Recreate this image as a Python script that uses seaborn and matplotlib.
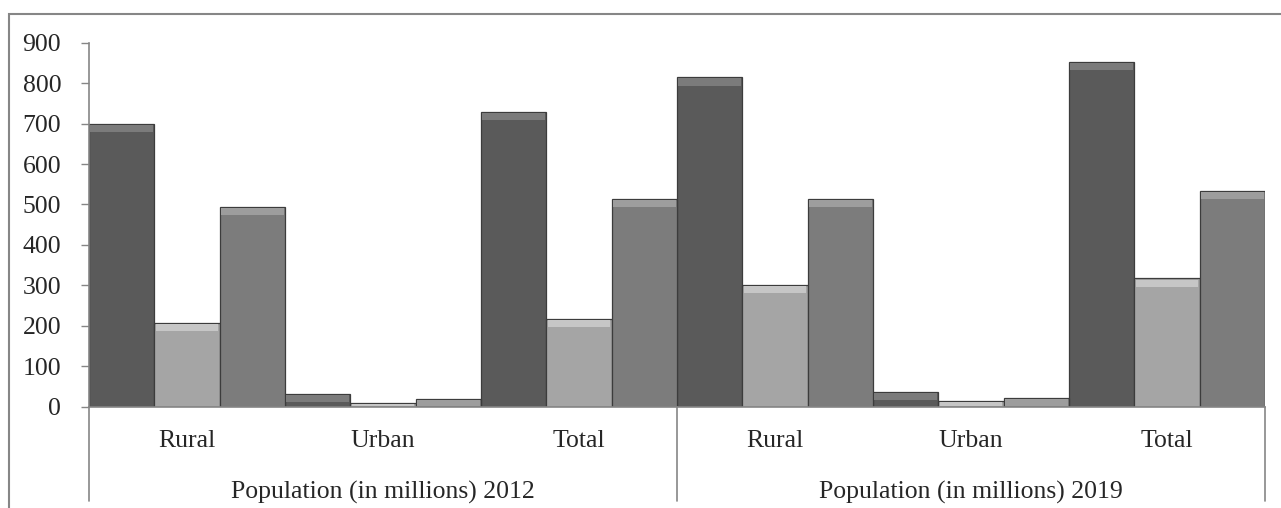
import pandas as pd
import matplotlib.pyplot as plt
import seaborn as sns
from matplotlib.patches import Rectangle
from matplotlib.lines import Line2D

# values (millions)
years = ["Population (in millions) 2012", "Population (in millions) 2019"]
areas = ["Rural", "Urban", "Total"]
series_names = ["Series 1", "Series 2", "Series 3"]
series_1 = [700, 32, 729, 814, 37, 853]
series_2 = [208, 10, 218, 302, 13, 317]
series_3 = [493, 18, 513, 513, 22, 534]
bar_colors = ["#5a5a5a", "#a5a5a5", "#7c7c7c"]

cats = [f"{y[-4:]} {a}" for y in years for a in areas]
df = pd.DataFrame({
    "cat": cats * 3,
    "series": [s for s in series_names for _ in cats],
    "value": series_1 + series_2 + series_3,
})

sns.set_theme(style="white")
plt.rcParams['font.family'] = ['Liberation Serif', 'DejaVu Serif']

fig = plt.figure(figsize=(12.81, 5.08), dpi=100)
ax = fig.add_axes([89 / 1281, (508 - 406.7) / 508, (1265 - 89) / 1281, 364 / 508])

sns.barplot(data=df, x="cat", y="value", hue="series", order=cats,
            palette=bar_colors, width=1.0, gap=0, ax=ax,
            edgecolor="#3c3c3c", linewidth=0.9, legend=False)

# light bevel strip inside the top of each bar (rough imitation of the 3D look)
bevel = 20      # data units, ~8 px
px_x, px_y = 0.006, 2.5
for p in list(ax.patches):
    h = p.get_height()
    if h <= px_y * 2:
        continue
    band = min(bevel, h - px_y)
    fc = p.get_facecolor()
    light = tuple(min(1, c + 0.13) for c in fc[:3])
    ax.add_patch(Rectangle((p.get_x() + px_x, h - band), p.get_width() - 2 * px_x,
                           band - px_y, facecolor=light, edgecolor="none"))

ax.set_xlim(-0.5, len(cats) - 0.5)
ax.set_ylim(0, 900)
ax.set_yticks(range(0, 901, 100))
ax.set_xticks(range(len(cats)))
ax.set_xticklabels(areas * len(years))
ax.set_xlabel("")
ax.set_ylabel("")

ax.tick_params(axis="y", direction="out", length=6, width=1, color="#868686",
               labelsize=18.5, pad=14, left=True)
ax.tick_params(axis="x", length=0, labelsize=18.5, pad=17)

for side in ["top", "right"]:
    ax.spines[side].set_visible(False)
for side in ["left", "bottom"]:
    ax.spines[side].set_color("#868686")
    ax.spines[side].set_linewidth(1.2)

# group separators running down through the category labels
trans = ax.get_xaxis_transform()
for xpos in [-0.5, 2.5, 5.5]:
    ax.add_line(Line2D([xpos, xpos], [0, -0.26], transform=trans,
                       color="#868686", lw=1.2, clip_on=False))

for i, label in enumerate(years):
    ax.text(i * 3 + 1, -0.235, label, transform=trans, ha="center",
            va="center", fontsize=18.5)

# outer chart frame
fig.patches.append(Rectangle((9 / 1281, -0.1), 1.2, 1.1 - 14 / 508,
                             transform=fig.transFigure, fill=False,
                             edgecolor="#868686", lw=1.5))

fig.savefig("out.png", dpi=100)
